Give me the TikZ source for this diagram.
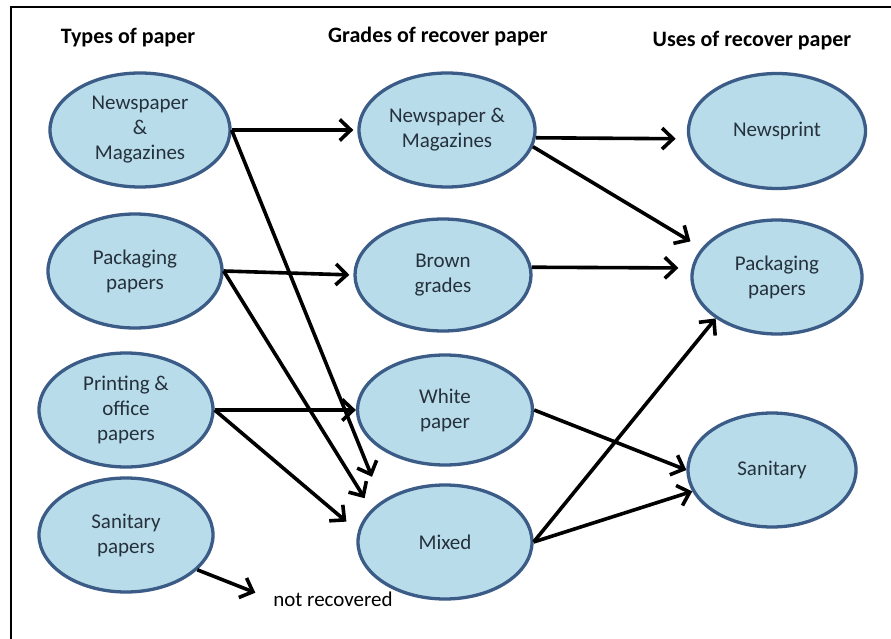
\documentclass[tikz,border=0pt]{standalone}
\usepackage{fontspec}
\setmainfont{Carlito}
\usetikzlibrary{arrows.meta,shapes.geometric}
\definecolor{bubblefill}{HTML}{B9DCEA}
\definecolor{rim}{HTML}{3C5C88}
\definecolor{ink}{HTML}{25313D}

\begin{document}
\begin{tikzpicture}[x=1pt,y=-1pt,
  bubble/.style={ellipse,draw=rim,line width=3.3pt,fill=bubblefill,inner sep=0pt,
    align=center,text=ink,font=\fontsize{21}{25}\selectfont},
  header/.style={font=\bfseries\fontsize{22}{26}\selectfont},
  flow/.style={line width=3.6pt,-{Straight Barb[length=11pt,width=21pt]}},
]
\useasboundingbox (0,0) rectangle (891,639);
\fill[white] (0,0) rectangle (891,639);
% frame
\draw[line width=2.8pt,line join=miter] (11,639) -- (11,7) -- (891,7);

% column headings
\node[header] (h1) at (128,38) {Types of paper};
\node[header] (h2) at (438,37) {Grades of recover paper};
\node[header] (h3) at (752,41) {Uses of recover paper};

% types of paper
\node[bubble,minimum width=180pt,minimum height=114pt] (t1) at (140,130) {Newspaper\\\&\\Magazines};
\node[bubble,minimum width=174pt,minimum height=114pt] (t2) at (135,271) {Packaging\\papers};
\node[bubble,minimum width=174pt,minimum height=114pt] (t3) at (126,410) {Printing \&\\office\\papers};
\node[bubble,minimum width=174pt,minimum height=114pt] (t4) at (126,535) {Sanitary\\papers};

% grades of recovered paper
\node[bubble,minimum width=176pt,minimum height=114pt] (g1) at (447,130) {Newspaper \&\\Magazines};
\node[bubble,minimum width=176pt,minimum height=112pt] (g2) at (443,275) {Brown\\grades};
\node[bubble,minimum width=175pt,minimum height=110pt] (g3) at (445,410) {White\\paper};
\node[bubble,minimum width=174pt,minimum height=114pt] (g4) at (445,542) {Mixed};

% uses of recovered paper
\node[bubble,minimum width=177pt,minimum height=115pt] (u1) at (777,131) {Newsprint};
\node[bubble,minimum width=170pt,minimum height=114pt] (u2) at (777,277) {Packaging\\papers};
\node[bubble,minimum width=168pt,minimum height=114pt] (u3) at (772,470) {Sanitary};

\node[font=\fontsize{21}{25}\selectfont,inner sep=2pt] (nr) at (333,599) {not recovered};

% flows
\draw[flow,shorten >=4pt] (t1.east) -- (g1.west);
\draw[flow,shorten >=26pt] (t1.east) -- (g4.147);
\draw[flow,shorten >=4pt] (t2.east) -- (g2.west);
\draw[flow,shorten >=13pt] (t2.east) -- (g4.156);
\draw[flow] (t3.east) -- (g3.west);
\draw[flow,shorten >=15pt] (t3.east) -- (g4.173);
\draw[flow,shorten >=17pt] (t4.-26) -- (nr.west);

\draw[flow,shorten >=12pt] (g1.-5) -- (u1.185);
\draw[flow,shorten >=13pt] (g1.-11) -- (u2.159);
\draw[flow,shorten >=13pt] (g2.5) -- (u2.174);
\draw[flow] (g3.east) -- (u3.west);
\draw[flow] (g4.east) -- (u3.195);
\draw[flow] (g4.east) -- (u2.214);
\end{tikzpicture}
\end{document}
